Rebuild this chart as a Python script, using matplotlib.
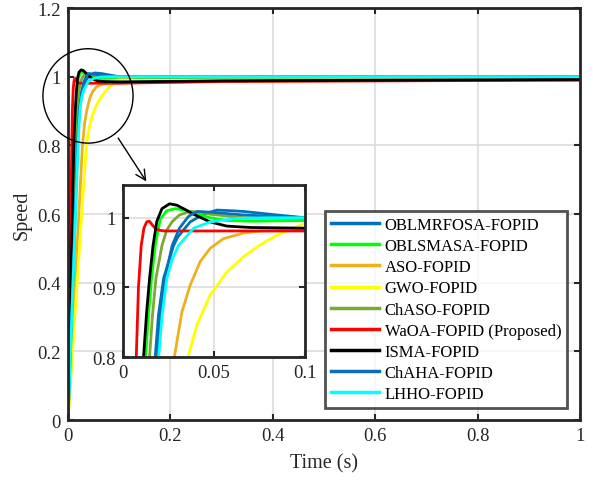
import matplotlib
matplotlib.use("Agg")
import matplotlib.pyplot as plt
from matplotlib.patches import Ellipse

plt.rcParams['font.family'] = ['Liberation Serif', 'DejaVu Serif']

# Datos (tiempo en s, velocidad)
t_oblmrfosa = [0, 0.0177, 0.0195, 0.0223, 0.0278, 0.0300, 0.0369, 0.0442, 0.0516, 0.0600, 0.0662, 0.0845, 0.1, 0.3, 1.0]
y_oblmrfosa = [0, 0.80, 0.86, 0.913, 0.960, 0.972, 0.994, 1.005, 1.011, 1.010, 1.009, 1.004, 1.000, 1.0, 1.0]

t_oblsmasa = [0, 0.0124, 0.0140, 0.0157, 0.0177, 0.0205, 0.0240, 0.0287, 0.0340, 0.0388, 0.0479, 0.0570, 0.0700, 0.1, 0.3, 1.0]
y_oblsmasa = [0, 0.80, 0.86, 0.913, 0.960, 0.998, 1.010, 1.013, 1.011, 1.007, 1.000, 0.996, 0.995, 0.996, 0.999, 1.0]

t_aso = [0, 0.0282, 0.0324, 0.0369, 0.0424, 0.0479, 0.0552, 0.0662, 0.0753, 0.1, 0.3, 1.0]
y_aso = [0, 0.80, 0.865, 0.903, 0.937, 0.956, 0.970, 0.978, 0.981, 0.982, 0.987, 0.99]

t_gwo = [0, 0.0357, 0.0406, 0.0479, 0.0570, 0.0662, 0.0753, 0.0845, 0.1, 0.13, 0.2, 1.0]
y_gwo = [0, 0.80, 0.846, 0.889, 0.922, 0.944, 0.961, 0.975, 0.992, 0.999, 1.0, 1.0]

t_chaso = [0, 0.0146, 0.0162, 0.0181, 0.0214, 0.0240, 0.0269, 0.0310, 0.0370, 0.0430, 0.0479, 0.0662, 0.1, 1.0]
y_chaso = [0, 0.80, 0.86, 0.913, 0.960, 0.982, 0.994, 1.004, 1.009, 1.008, 1.005, 1.000, 0.999, 1.0]

t_waoa = [0, 0.0073, 0.0085, 0.0100, 0.0115, 0.0130, 0.0145, 0.0160, 0.0180, 0.0200, 0.0230, 0.03, 0.1, 0.3, 1.0]
y_waoa = [0, 0.80, 0.90, 0.96, 0.985, 0.994, 0.995, 0.990, 0.984, 0.982, 0.981, 0.981, 0.981, 0.986, 0.99]

t_isma = [0, 0.0113, 0.0130, 0.0146, 0.0165, 0.0186, 0.0214, 0.0256, 0.0296, 0.0340, 0.0388, 0.0479, 0.0570, 0.0700, 0.1, 0.3, 1.0]
y_isma = [0, 0.80, 0.865, 0.913, 0.960, 0.995, 1.013, 1.020, 1.018, 1.012, 1.005, 0.994, 0.988, 0.986, 0.985, 0.988, 0.992]

t_chaha = [0, 0.0186, 0.0205, 0.0230, 0.0270, 0.0310, 0.0360, 0.0406, 0.0479, 0.0662, 0.1, 1.0]
y_chaha = [0, 0.80, 0.86, 0.913, 0.960, 0.985, 1.002, 1.009, 1.008, 1.004, 1.000, 1.0]

t_lhho = [0, 0.0196, 0.0215, 0.0241, 0.0270, 0.0305, 0.0388, 0.0479, 0.0625, 0.0800, 0.1, 1.0]
y_lhho = [0, 0.80, 0.86, 0.913, 0.940, 0.960, 0.985, 0.994, 0.999, 1.0, 1.0, 1.0]

series = [
    ("OBLMRFOSA-FOPID", t_oblmrfosa, y_oblmrfosa, "#0072BD"),
    ("OBLSMASA-FOPID", t_oblsmasa, y_oblsmasa, "#00FF00"),
    ("ASO-FOPID", t_aso, y_aso, "#EDB120"),
    ("GWO-FOPID", t_gwo, y_gwo, "#FFFF00"),
    ("ChASO-FOPID", t_chaso, y_chaso, "#77AC30"),
    ("WaOA-FOPID (Proposed)", t_waoa, y_waoa, "#FF0000"),
    ("ISMA-FOPID", t_isma, y_isma, "#000000"),
    ("ChAHA-FOPID", t_chaha, y_chaha, "#0B6FB8"),
    ("LHHO-FOPID", t_lhho, y_lhho, "#00FFFF"),
]

spine_col = "#262626"


def style_axes(ax, fs):
    for s in ax.spines.values():
        s.set_linewidth(2.0)
        s.set_color(spine_col)
    ax.tick_params(direction="in", top=True, right=True, length=4, width=1.5,
                   labelsize=fs, colors=spine_col, pad=5)
    ax.grid(True, color="#dcdcdc", linewidth=1.2)
    ax.set_axisbelow(True)


fig = plt.figure(figsize=(5.93, 4.81), dpi=100)
ax = fig.add_axes([0.1147, 0.1247, 0.8634, 0.8565])

for name, t, y, c in series:
    ax.plot(t, y, color=c, linewidth=2.0, label=name)

ax.set_xlim(0, 1)
ax.set_ylim(0, 1.2)
ax.set_xticks([0, 0.2, 0.4, 0.6, 0.8, 1])
ax.set_xticklabels(["0", "0.2", "0.4", "0.6", "0.8", "1"])
ax.set_yticks([0, 0.2, 0.4, 0.6, 0.8, 1.0, 1.2])
ax.set_yticklabels(["0", "0.2", "0.4", "0.6", "0.8", "1", "1.2"])
style_axes(ax, 13.5)
ax.set_xlabel("Time (s)", fontsize=14.5, color=spine_col, labelpad=7)
ax.set_ylabel("Speed", fontsize=14.5, color=spine_col, labelpad=4)

# Círculo de zoom y flecha
circ = Ellipse((0.039, 0.944), 0.176, 0.275, fill=False, edgecolor="black",
               linewidth=1.0, clip_on=False, zorder=5)
ax.add_patch(circ)
ax.annotate("", xy=(0.156, 0.688), xytext=(0.095, 0.828),
            arrowprops=dict(arrowstyle="->", color="black", lw=1.0, mutation_scale=18))

leg = ax.legend(loc="lower right", bbox_to_anchor=(0.975, 0.029), fontsize=12,
                frameon=True, fancybox=False, handlelength=2.9, labelspacing=0.31,
                borderpad=0.35, handletextpad=0.35, borderaxespad=0)
leg.get_frame().set_edgecolor(spine_col)
leg.get_frame().set_linewidth(2.0)
for h in leg.get_lines():
    h.set_linewidth(2.5)

# Gráfico ampliado
axi = fig.add_axes([0.2074, 0.2557, 0.307, 0.3576])
for name, t, y, c in series:
    axi.plot(t, y, color=c, linewidth=2.0)
axi.set_xlim(0, 0.1)
axi.set_ylim(0.8, 1.047)
axi.set_xticks([0, 0.05, 0.1])
axi.set_xticklabels(["0", "0.05", "0.1"])
axi.set_yticks([0.8, 0.9, 1.0])
axi.set_yticklabels(["0.8", "0.9", "1"])
style_axes(axi, 13.5)

fig.savefig("out.png", dpi=100)
